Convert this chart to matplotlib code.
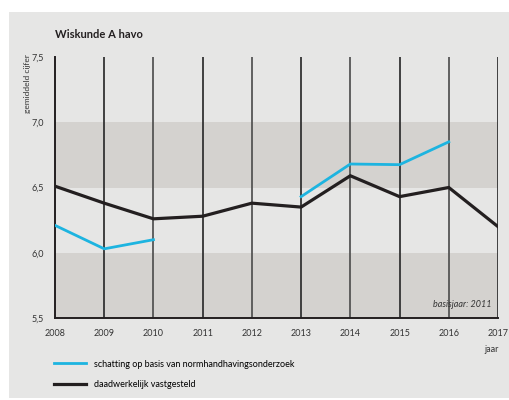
import matplotlib
matplotlib.use("Agg")
import matplotlib.pyplot as plt
from matplotlib.patches import Rectangle

plt.rcParams['font.family'] = ['Lato', 'DejaVu Sans']

# data
jaren = [2008, 2009, 2010, 2011, 2012, 2013, 2014, 2015, 2016, 2017]
vastgesteld = [6.51, 6.38, 6.26, 6.28, 6.38, 6.35, 6.59, 6.43, 6.50, 6.20]
schatting_jaren_1 = [2008, 2009, 2010]
schatting_1 = [6.21, 6.03, 6.10]
schatting_jaren_2 = [2013, 2014, 2015, 2016]
schatting_2 = [6.43, 6.68, 6.675, 6.85]
y_ticks = [5.5, 6.0, 6.5, 7.0, 7.5]
y_labels = ['5,5', '6,0', '6,5', '7,0', '7,5']

blauw = '#1db4e0'
zwart = '#231f20'
achtergrond = '#e6e6e5'
band = '#d4d2cf'

fig = plt.figure(figsize=(5.1, 4.0), dpi=100)
fig.patch.set_facecolor('white')
fig.patches.append(Rectangle((9 / 510, 2 / 400), 1 - 9 / 510, 1 - 14 / 400,
                             transform=fig.transFigure, facecolor=achtergrond,
                             edgecolor='none', zorder=-5))

ax = fig.add_axes([55 / 510, 1 - 318 / 400, 443 / 510, 261 / 400])
ax.set_facecolor(achtergrond)
ax.set_xlim(2008, 2017)
ax.set_ylim(5.5, 7.5)

# grijze banden
ax.axhspan(5.5, 6.0, color=band, lw=0, zorder=0)
ax.axhspan(6.5, 7.0, color=band, lw=0, zorder=0)

# verticale lijnen
for i, j in enumerate(jaren[1:]):
    ax.axvline(j, color='#333333' if i % 2 == 0 else '#555555', lw=1.3, zorder=1)

ax.plot(jaren, vastgesteld, color=zwart, lw=2.3, zorder=3,
        solid_joinstyle='miter', label='daadwerkelijk vastgesteld')
ax.plot(schatting_jaren_1, schatting_1, color=blauw, lw=2.0, zorder=3,
        label='schatting op basis van normhandhavingsonderzoek')
ax.plot(schatting_jaren_2, schatting_2, color=blauw, lw=2.0, zorder=3)

for s in ['top', 'right']:
    ax.spines[s].set_visible(False)
for s in ['left', 'bottom']:
    ax.spines[s].set_color(zwart)
    ax.spines[s].set_linewidth(1.4)

ax.set_xticks(jaren)
ax.set_xticklabels([str(j) for j in jaren], fontsize=6.5, color='#333333')
ax.set_yticks(y_ticks)
ax.set_yticklabels(y_labels, fontsize=6.5, color='#333333')
ax.tick_params(length=0, pad=8)

ax.text(0.985, 0.05, 'basisjaar: 2011', transform=ax.transAxes, ha='right',
        va='center', fontsize=6.5, style='italic', color='#333333')

fig.text(55 / 510, 1 - 35 / 400, 'Wiskunde A havo', fontsize=8, fontweight='bold',
         ha='left', va='center', color=zwart)
fig.text(28 / 510, 1 - 54 / 400, 'gemiddeld cijfer', fontsize=6, rotation=90,
         ha='center', va='top', color='#333333')
fig.text(499 / 510, 1 - 349 / 400, 'jaar', fontsize=6.5, ha='right', va='center',
         color='#333333')

handles, labels = ax.get_legend_handles_labels()
fig.legend(handles[::-1], labels[::-1], loc='upper left',
           bbox_to_anchor=(50 / 510, 1 - 356 / 400), frameon=False,
           fontsize=6.5, handlelength=3.6, handletextpad=0.9,
           labelspacing=1.3, borderaxespad=0)

fig.savefig('out.png', dpi=100)
